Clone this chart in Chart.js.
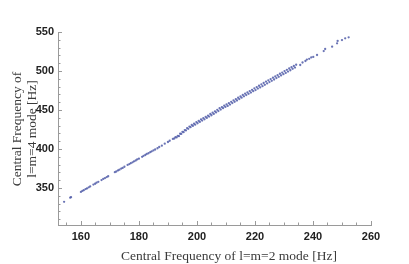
<!DOCTYPE html>
<html>
<head>
<meta charset="utf-8">
<script src="https://cdn.jsdelivr.net/npm/chart.js@4.4.1/dist/chart.umd.min.js"></script>
<style>
  html, body { margin: 0; padding: 0; background: #fff; }
  #wrap { position: relative; width: 409px; height: 264px; }
</style>
</head>
<body>
<div id="wrap"><canvas id="modeChart"></canvas></div>
<script>
// central frequency of the l=m=2 mode [Hz], one entry per point
const freqL2 = [
  154.2, 156.3, 156.6,
  160.0, 160.5, 161.0, 161.6, 162.1, 162.7, 163.2, 164.3, 164.9, 165.4, 166.0, 167.1, 167.7, 168.3, 168.9, 169.4,
  171.7, 172.2, 172.8, 173.3, 173.9, 174.4, 175.0, 176.1, 176.7, 177.2, 177.8, 178.3, 178.9, 179.4, 180.0,
  181.1, 181.6, 182.2, 182.7, 183.3, 183.9, 184.4, 185.0, 185.6,
  186.4, 187.0, 187.9, 188.9, 190.0, 190.6, 191.7,
  192.2, 192.6, 193.0, 193.4, 193.8, 194.2, 194.6, 195.0, 195.4, 195.8,
  196.2, 196.6, 197.0, 197.4, 197.8, 198.2, 198.6, 199.0, 199.4, 199.8,
  200.2, 200.6, 201.0, 201.4, 201.8, 202.2, 202.6, 203.0, 203.4, 203.8,
  204.2, 204.6, 205.0, 205.4, 205.8, 206.2, 206.6, 207.0, 207.4, 207.8,
  208.2, 208.6, 209.0, 209.4, 209.8, 210.2, 210.6, 211.0, 211.4, 211.8,
  212.2, 212.6, 213.0, 213.4, 213.8, 214.2, 214.6, 215.0, 215.4, 215.8,
  216.2, 216.6, 217.0, 217.4, 217.8, 218.2, 218.6, 219.0, 219.4, 219.8,
  220.2, 220.6, 221.0, 221.4, 221.8, 222.2, 222.6, 223.0, 223.4, 223.8,
  224.2, 224.6, 225.0, 225.4, 225.8, 226.2, 226.6, 227.0, 227.4, 227.8,
  228.2, 228.6, 229.0, 229.4, 229.8, 230.2, 230.6, 231.0, 231.4, 231.8,
  232.2, 232.6, 233.0, 233.4, 233.8, 234.2,
  235.6, 236.4, 237.4, 237.9, 238.7, 239.4, 240.1, 241.4, 243.7, 244.2,
  246.6, 248.3, 248.5, 250.0, 251.1, 252.3
];
// central frequency of the l=m=4 mode [Hz], same order
const freqL4 = [
  332.3, 337.6, 338.3,
  345.0, 346.3, 347.2, 348.6, 349.5, 350.9, 352.0, 354.4, 355.5, 356.8, 357.9, 360.2, 361.6, 362.7, 364.0, 365.1,
  370.3, 371.2, 372.6, 373.5, 374.9, 375.8, 377.3, 379.6, 380.7, 381.9, 383.0, 384.2, 385.3, 386.6, 387.6,
  390.0, 391.3, 392.3, 393.7, 394.6, 396.0, 397.1, 398.2, 399.4,
  401.0, 402.6, 404.3, 406.9, 409.0, 410.6, 413.0,
  413.5, 415.2, 414.8, 416.9, 416.5, 419.6, 419.4, 422.0, 421.6, 424.3,
  423.8, 426.9, 425.9, 428.8, 428.0, 430.9, 429.6, 432.4, 431.2, 434.6,
  433.0, 436.1, 434.7, 437.9, 436.4, 439.5, 438.1, 441.3, 439.9, 442.8,
  441.6, 444.9, 443.3, 446.6, 445.0, 448.3, 446.9, 450.2, 448.7, 452.4,
  450.6, 453.8, 452.3, 455.6, 454.0, 457.1, 455.3, 458.8, 457.0, 460.5,
  458.9, 462.4, 460.6, 464.0, 462.2, 465.7, 464.0, 467.3, 465.8, 469.4,
  467.5, 471.0, 469.1, 472.6, 470.8, 474.3, 472.4, 475.9, 474.1, 477.8,
  475.6, 479.4, 477.5, 481.1, 479.0, 482.9, 480.6, 484.6, 482.3, 486.4,
  484.1, 488.0, 485.8, 489.6, 487.4, 491.4, 489.1, 493.0, 490.9, 494.7,
  492.6, 496.5, 494.3, 498.0, 496.0, 499.9, 497.6, 501.5, 499.3, 503.2,
  501.0, 504.8, 502.8, 506.4, 504.4, 508.0,
  507.7, 510.9, 512.8, 514.6, 515.6, 517.4, 518.0, 520.5, 525.6, 528.2,
  531.2, 535.5, 538.5, 539.7, 541.9, 543.2
];

const xTicks = [160, 180, 200, 220, 240, 260];
const xMinorTicks = [155, 165, 170, 175, 185, 190, 195, 205, 210, 215, 225, 230, 235, 245, 250, 255];
const yTicks = [350, 400, 450, 500, 550];
const yMinorTicks = [310, 320, 330, 340, 360, 370, 380, 390, 410, 420, 430, 440,
                     460, 470, 480, 490, 510, 520, 530, 540];
const xTitle = 'Central Frequency of l=m=2 mode [Hz]';
const yTitle = ['Central Frequency of', 'l=m=4 mode [Hz]'];

// Mathematica style inward ticks + axis titles
const axisDecor = {
  id: 'axisDecor',
  afterDraw(chart) {
    const { ctx, chartArea: area, scales: { x, y } } = chart;
    ctx.save();
    ctx.strokeStyle = '#9a9a9a';
    ctx.lineWidth = 1;
    ctx.beginPath();
    const xTick = (v, len) => {
      const px = Math.round(x.getPixelForValue(v)) + 0.5;
      ctx.moveTo(px, area.bottom);
      ctx.lineTo(px, area.bottom - len);
    };
    const yTick = (v, len) => {
      const py = Math.round(y.getPixelForValue(v)) + 0.5;
      ctx.moveTo(area.left, py);
      ctx.lineTo(area.left + len, py);
    };
    xTicks.forEach(v => xTick(v, 4));
    xMinorTicks.forEach(v => xTick(v, 2.5));
    yTicks.forEach(v => yTick(v, 4));
    yMinorTicks.forEach(v => yTick(v, 2.5));
    ctx.stroke();

    ctx.fillStyle = '#3a3a3a';
    ctx.font = '13.5px "Liberation Serif", "Times New Roman", serif';
    ctx.textAlign = 'center';
    ctx.textBaseline = 'middle';
    ctx.fillText(xTitle, 229, 256);
    ctx.translate(17.5, 129);
    ctx.rotate(-Math.PI / 2);
    yTitle.forEach((line, i) => ctx.fillText(line, 0, i * 15));
    ctx.restore();
  }
};

const points = freqL2.map((v, i) => ({ x: v, y: freqL4[i] }));
const tickFont = { family: '"Liberation Sans", Arial, sans-serif', size: 11, weight: 'bold' };

new Chart(document.getElementById('modeChart'), {
  type: 'scatter',
  data: {
    datasets: [{
      data: points,
      pointRadius: 1.15,
      pointHoverRadius: 1.15,
      borderWidth: 0,
      backgroundColor: 'rgba(80, 92, 168, 0.85)'
    }]
  },
  options: {
    responsive: true,
    maintainAspectRatio: false,
    animation: false,
    events: [],
    layout: { padding: { top: 32, right: 38, left: 0, bottom: 0 } },
    plugins: { legend: { display: false }, tooltip: { enabled: false } },
    scales: {
      x: {
        type: 'linear',
        min: 152.1,
        max: 260,
        grid: { display: false, drawTicks: false },
        border: { display: true, color: '#9a9a9a', width: 1 },
        ticks: { font: tickFont, color: '#222', padding: 5, maxRotation: 0 },
        afterBuildTicks: s => { s.ticks = xTicks.map(v => ({ value: v })); },
        afterFit: s => { s.height = 39; }
      },
      y: {
        type: 'linear',
        min: 302.6,
        max: 550,
        grid: { display: false, drawTicks: false },
        border: { display: true, color: '#9a9a9a', width: 1 },
        ticks: { font: tickFont, color: '#222', padding: 4 },
        afterBuildTicks: s => { s.ticks = yTicks.map(v => ({ value: v })); },
        afterFit: s => { s.width = 58; }
      }
    }
  },
  plugins: [axisDecor]
});
</script>
</body>
</html>
